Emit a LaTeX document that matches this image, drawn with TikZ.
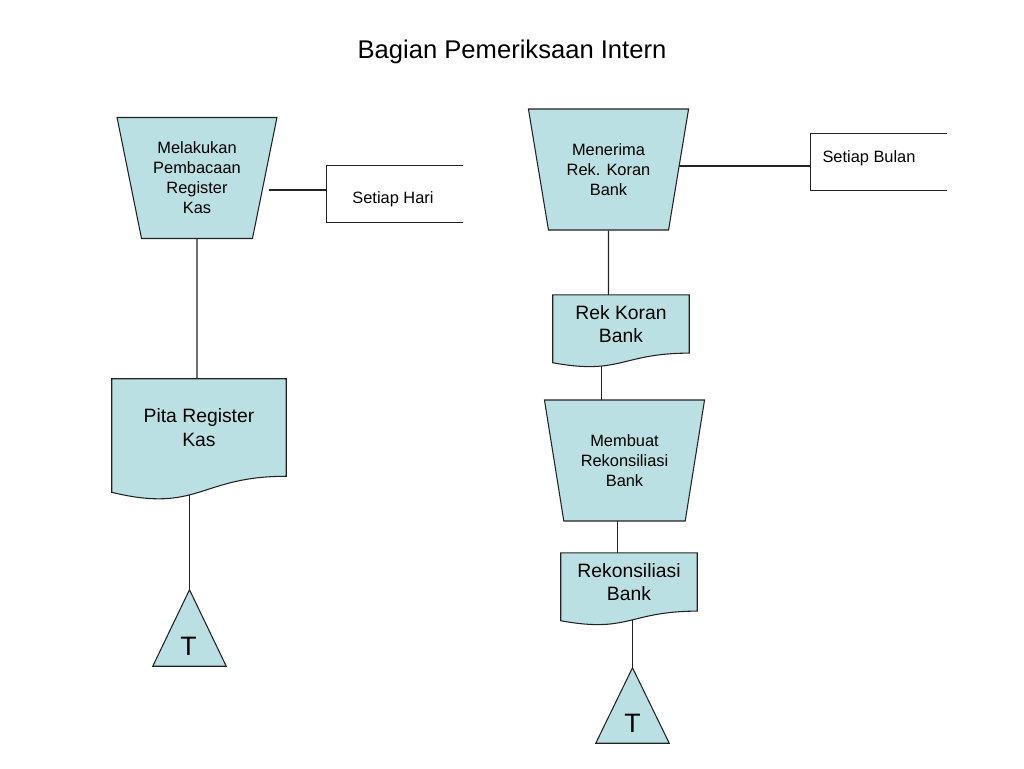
\documentclass[tikz,border=0pt]{standalone}
\usepackage{fontspec}
\setmainfont{Liberation Sans}
\usepackage{xcolor}
\usetikzlibrary{shapes.geometric,backgrounds,calc}

\definecolor{boxfill}{RGB}{187,224,227}
\definecolor{edge}{RGB}{35,35,35}

% document symbol with wavy bottom, drawn round a text node
\newcommand{\docshape}[1]{%
  \path[shapeline] (#1.north west) -- (#1.north east) -- (#1.south east)
    .. controls (#1.south) and ($(#1.south)!-0.3815!(#1.north)$)
    .. ($(#1.south west)!-0.1646!(#1.north west)$) -- cycle;}
% off-page connector triangle
\newcommand{\trishape}[1]{%
  \path[shapeline] (#1.north) -- (#1.south east) -- (#1.south west) -- cycle;}

\begin{document}
\begin{tikzpicture}[x=0.75pt,y=-0.75pt,
  shapeline/.style={fill=boxfill,draw=edge,line width=0.8pt},
  link/.style={draw=edge,line width=0.8pt},
  proc/.style={trapezium,shape border rotate=180,trapezium stretches=true,
    trapezium angle=75,minimum width=120.75pt,minimum height=90.75pt,inner sep=0pt,
    shapeline,align=center,font=\fontsize{12.3}{15}\selectfont},
  docbox/.style={minimum width=102pt,minimum height=43.3pt,inner sep=0pt,
    align=center,font=\fontsize{14.5}{17.4}\selectfont},
  note/.style={minimum width=102pt,minimum height=42pt,inner sep=0pt},
  notetext/.style={inner sep=0pt,font=\fontsize{12.3}{15}\selectfont},
  tribox/.style={minimum width=54.75pt,minimum height=57pt,inner sep=0pt},
  tletter/.style={inner sep=0pt,font=\fontsize{20}{24}\selectfont}]
\useasboundingbox (0,0) rectangle (1024,768);

\node[font=\fontsize{19.2}{23}\selectfont] (title) at (512,52) {Bagian Pemeriksaan Intern};

% left column
\node[proc] (melakukan) at (197,178) {Melakukan\\Pembacaan\\Register\\Kas};
\node[note] (hari) at (395,194) {};
\node[notetext] (hariText) at (393,199) {Setiap Hari};
\node[docbox,minimum width=130.5pt,minimum height=72.75pt] (pita) at (199,427.5) {Pita Register\\Kas};
\node[tribox] (tl) at (189.5,628) {};
\node[tletter] (tlT) at (188.5,646.5) {T};

% right column
\node[proc] (menerima) at (608.5,169.5) {Menerima\\Rek. Koran\\Bank};
\node[note] (bulan) at (878.5,162) {};
\node[notetext] (bulanText) at (869,158) {Setiap Bulan};
\node[docbox] (rekkoran) at (621,324) {Rek Koran\\Bank};
\node[proc] (membuat) at (624.5,460.5) {Membuat\\Rekonsiliasi\\Bank};
\node[docbox] (rekon) at (629,582) {Rekonsiliasi\\Bank};
\node[tribox,minimum height=56.25pt] (tr) at (632.5,705.5) {};
\node[tletter] (trT) at (632.5,723.5) {T};

% open annotation boxes
\draw[link] (hari.north east) -- (hari.north west) -- (hari.south west) -- (hari.south east);
\draw[link] (bulan.north east) -- (bulan.north west) -- (bulan.south west) -- (bulan.south east);

\begin{scope}[on background layer]
% connectors
\draw[link] (melakukan) -- (melakukan |- pita);
\draw[link] ($(melakukan.east |- hari.west)+(3pt,3pt)$) -- ($(hari.west)+(0pt,3pt)$);
\draw[link] (tl) -- (tl |- pita);
\draw[link] ($(menerima.east |- bulan.west)+(0pt,-3pt)$) -- ($(bulan.west)+(0pt,-3pt)$);
\draw[link] (menerima) -- (menerima |- rekkoran);
\draw[link] ($(membuat)+(-17.6pt,0pt)$) -- ($(membuat |- rekkoran)+(-17.6pt,0pt)$);
\draw[link] ($(membuat)+(-5.6pt,0pt)$) -- ($(membuat |- rekon)+(-5.6pt,0pt)$);
\draw[link] (tr) -- (tr |- rekon);
% symbols
\docshape{pita}
\docshape{rekkoran}
\docshape{rekon}
\trishape{tl}
\trishape{tr}
\end{scope}
\end{tikzpicture}
\end{document}
